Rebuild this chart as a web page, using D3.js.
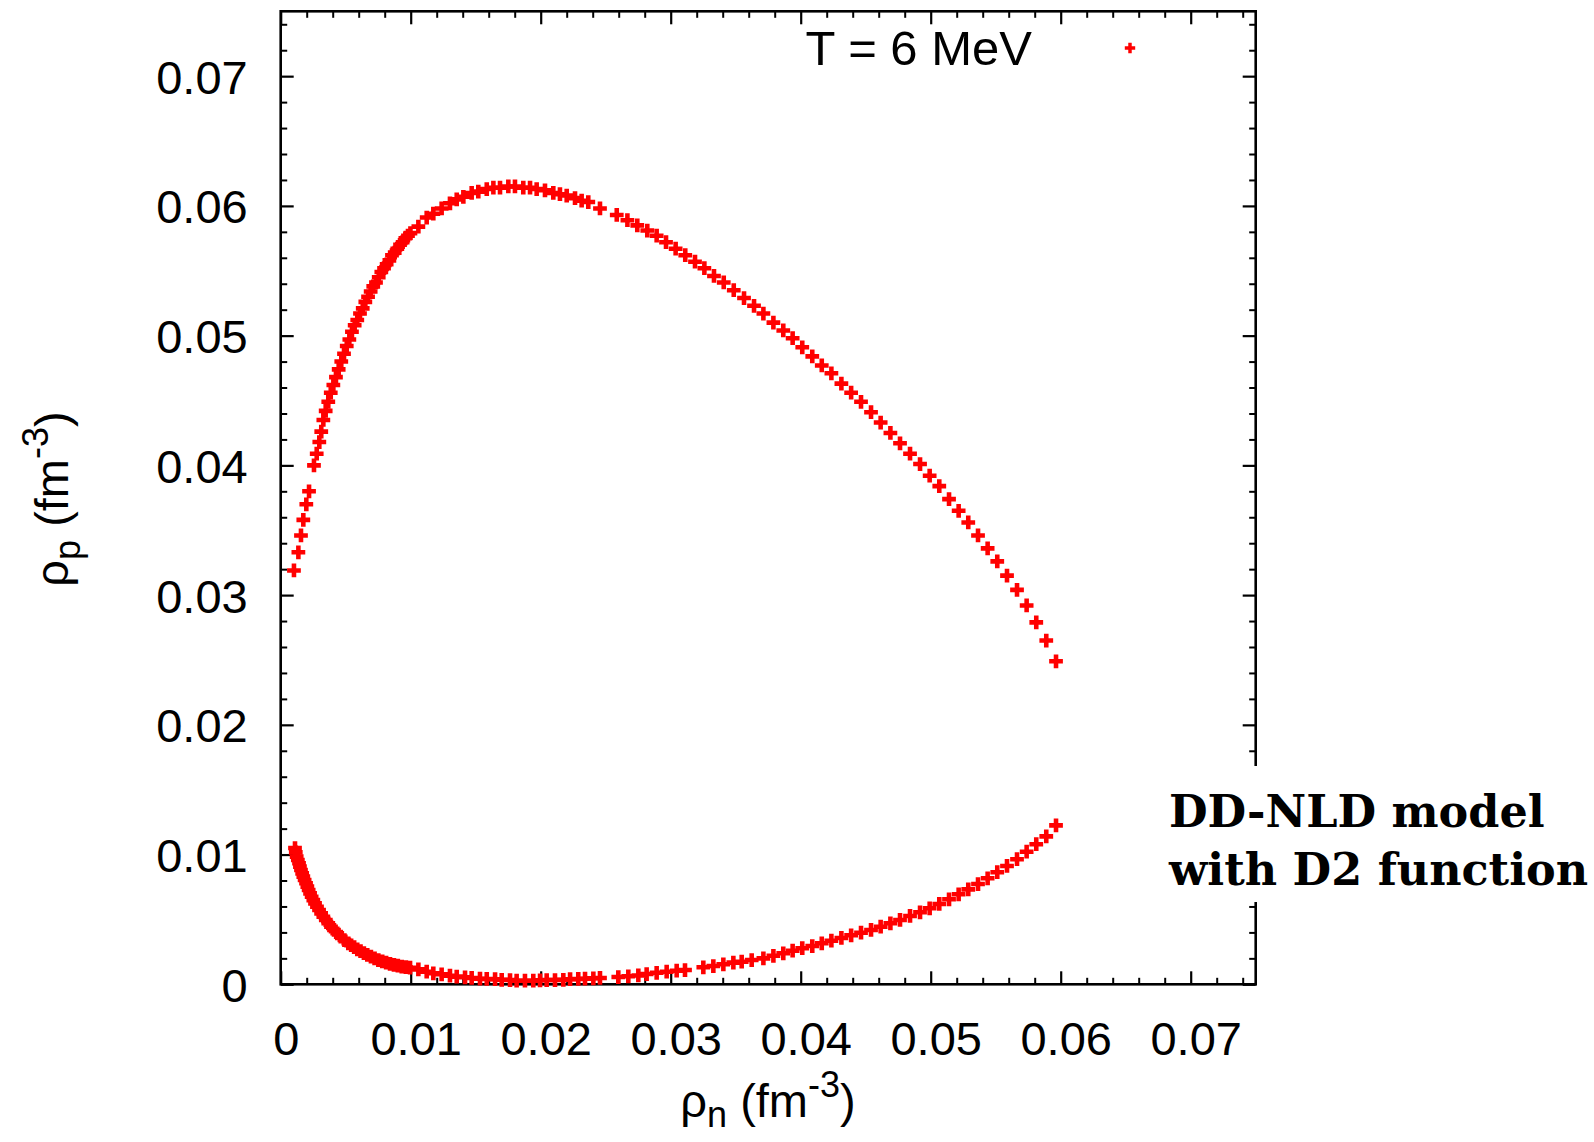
<!DOCTYPE html>
<html>
<head>
<meta charset="utf-8">
<script src="https://cdn.jsdelivr.net/npm/d3@7"></script>
<style>
  html, body { margin: 0; padding: 0; background: #fff; }
  svg text { font-family: "Liberation Sans", Arial, sans-serif; fill: #000; }
</style>
</head>
<body>
<div id="chart"></div>
<script>
// rho_n / rho_p pairs, upper branch (left to right)
let upperN = [
  0.00102, 0.00136, 0.00156, 0.00174, 0.00197, 0.00218, 0.00256, 0.00277, 0.00297, 0.00312,
  0.00328, 0.00346, 0.00366, 0.00385, 0.00405, 0.00425, 0.00446, 0.00466, 0.00487, 0.00508,
  0.00528, 0.00548, 0.00569, 0.00589, 0.00610, 0.00631, 0.00651, 0.00672, 0.00692, 0.00712,
  0.00733, 0.00754, 0.00774, 0.00795, 0.00815, 0.00836, 0.00856, 0.00877, 0.00897, 0.00918,
  0.00938, 0.00959, 0.00979, 0.00998,
  0.01059, 0.01123, 0.01174, 0.01238, 0.01302, 0.01354, 0.01405, 0.01469, 0.01520, 0.01585,
  0.01636, 0.01687, 0.01751, 0.01802, 0.01866, 0.01918, 0.01969, 0.02033, 0.02097, 0.02148,
  0.02200, 0.02264, 0.02315, 0.02366, 0.02456,
  0.02585, 0.02667, 0.02743, 0.02820, 0.02892, 0.02964, 0.03038, 0.03112, 0.03187, 0.03259,
  0.03333, 0.03408, 0.03485, 0.03564, 0.03641, 0.03713, 0.03790, 0.03866, 0.03938, 0.04012,
  0.04089, 0.04162, 0.04236, 0.04313, 0.04388, 0.04464, 0.04541, 0.04615, 0.04690, 0.04764,
  0.04841, 0.04918, 0.04992, 0.05066, 0.05141, 0.05215, 0.05289, 0.05364, 0.05438, 0.05512,
  0.05587, 0.05664, 0.05738, 0.05812, 0.05889, 0.05964
];
let upperP = [
  0.0319, 0.0333, 0.0346, 0.0358, 0.0370, 0.0380, 0.0400, 0.0409, 0.0418, 0.0426,
  0.0435, 0.0442, 0.0449, 0.0456, 0.0462, 0.0468, 0.0474, 0.0480, 0.0486, 0.0492,
  0.0497, 0.0503, 0.0508, 0.0512, 0.0517, 0.0521, 0.0526, 0.0530, 0.0534, 0.0538,
  0.0541, 0.0545, 0.0549, 0.0552, 0.0555, 0.0558, 0.0562, 0.0564, 0.0567, 0.0570,
  0.0572, 0.0575, 0.0577, 0.0579,
  0.0584, 0.0591, 0.0594, 0.0598, 0.0602, 0.0605, 0.0607, 0.0610, 0.0611, 0.0613,
  0.0614, 0.0614, 0.0615, 0.0615, 0.0614, 0.0614, 0.0613, 0.0612, 0.0610, 0.0609,
  0.0608, 0.0606, 0.0604, 0.0603, 0.0598,
  0.0593, 0.0589, 0.0585, 0.0581, 0.0577, 0.0572, 0.0567, 0.0562, 0.0557, 0.0552,
  0.0546, 0.0541, 0.0535, 0.0529, 0.0523, 0.0517, 0.0510, 0.0504, 0.0498, 0.0491,
  0.0484, 0.0477, 0.0471, 0.0463, 0.0456, 0.0449, 0.0441, 0.0433, 0.0425, 0.0417,
  0.0409, 0.0401, 0.0392, 0.0384, 0.0374, 0.0365, 0.0356, 0.0346, 0.0336, 0.0326,
  0.0315, 0.0304, 0.0292, 0.0279, 0.0265, 0.0249
];

// lower branch (left to right)
let lowerN = [
  0.00110, 0.00116, 0.00123, 0.00132, 0.00141, 0.00148, 0.00156, 0.00165, 0.00174, 0.00184,
  0.00195, 0.00205, 0.00215, 0.00226, 0.00238, 0.00251, 0.00264, 0.00279, 0.00295, 0.00311,
  0.00328, 0.00347, 0.00366, 0.00387, 0.00410, 0.00435, 0.00462, 0.00490, 0.00520, 0.00542,
  0.00565, 0.00589, 0.00614, 0.00640, 0.00666, 0.00694, 0.00722, 0.00751, 0.00781, 0.00811,
  0.00841, 0.00871, 0.00901, 0.00931, 0.00963, 0.00995,
  0.01059, 0.01123, 0.01174, 0.01238, 0.01302, 0.01354, 0.01418, 0.01469, 0.01533, 0.01585,
  0.01649, 0.01700, 0.01764, 0.01815, 0.01879, 0.01943, 0.01995, 0.02046, 0.02110, 0.02174,
  0.02226, 0.02289, 0.02341, 0.02405, 0.02456,
  0.02597, 0.02674, 0.02751, 0.02815, 0.02892, 0.02969, 0.03046, 0.03110,
  0.03251, 0.03328, 0.03405, 0.03482, 0.03546, 0.03623, 0.03713, 0.03790, 0.03866, 0.03938,
  0.04012, 0.04089, 0.04162, 0.04236, 0.04313, 0.04388, 0.04464, 0.04541, 0.04615, 0.04690,
  0.04764, 0.04841, 0.04918, 0.04992, 0.05066, 0.05141, 0.05215, 0.05289, 0.05364, 0.05438,
  0.05512, 0.05587, 0.05664, 0.05738, 0.05812, 0.05889, 0.05964
];
let lowerP = [
  0.01050, 0.01017, 0.00984, 0.00958, 0.00933, 0.00907, 0.00881, 0.00855, 0.00830, 0.00804,
  0.00779, 0.00753, 0.00727, 0.00701, 0.00675, 0.00649, 0.00624, 0.00598, 0.00573, 0.00547,
  0.00521, 0.00495, 0.00470, 0.00444, 0.00419, 0.00393, 0.00367, 0.00341, 0.00316, 0.00301,
  0.00286, 0.00270, 0.00255, 0.00240, 0.00226, 0.00213, 0.00200, 0.00187, 0.00177, 0.00167,
  0.00158, 0.00150, 0.00143, 0.00136, 0.00132, 0.00128,
  0.00115, 0.00097, 0.00085, 0.00077, 0.00066, 0.00059, 0.00054, 0.00049, 0.00043, 0.00041,
  0.00039, 0.00035, 0.00033, 0.00028, 0.00028, 0.00028, 0.00031, 0.00033, 0.00033, 0.00035,
  0.00039, 0.00041, 0.00043, 0.00046, 0.00049,
  0.00056, 0.00062, 0.00068, 0.00079, 0.00089, 0.00097, 0.00105, 0.00110,
  0.00131, 0.00141, 0.00154, 0.00167, 0.00174, 0.00187, 0.00200, 0.00220, 0.00239, 0.00259,
  0.00278, 0.00295, 0.00316, 0.00336, 0.00357, 0.00378, 0.00398, 0.00419, 0.00444, 0.00470,
  0.00496, 0.00527, 0.00555, 0.00586, 0.00619, 0.00655, 0.00694, 0.00732, 0.00773, 0.00817,
  0.00864, 0.00912, 0.00964, 0.01022, 0.01080, 0.01140, 0.01225
];

let xTicks = [0, 0.01, 0.02, 0.03, 0.04, 0.05, 0.06, 0.07];
let xTickLabels = ["0", "0.01", "0.02", "0.03", "0.04", "0.05", "0.06", "0.07"];
let yTicks = [0, 0.01, 0.02, 0.03, 0.04, 0.05, 0.06, 0.07];
let yTickLabels = ["0", "0.01", "0.02", "0.03", "0.04", "0.05", "0.06", "0.07"];
let minorStep = 0.002;

let legendLabel = "T = 6 MeV";
let noteLines = ["DD-NLD model", "with D2 function"];

let width = 1594;
let height = 1142;
let margin = ({top: 11.3, right: 338.3, bottom: 157.7, left: 280.7});
let fontSize = 47;

let svg = d3.select("#chart")
    .append("svg")
    .attr("width", width)
    .attr("height", height);

let xScale = d3.scaleLinear()
    .domain([0, 0.075])
    .range([margin.left, width - margin.right]);

let yScale = d3.scaleLinear()
    .domain([0, 0.075])
    .range([height - margin.bottom, margin.top]);

// minor tick positions between the labelled ones
let minors = d3.range(0, 0.0751, minorStep)
    .map(function(v) { return Math.round(v * 1000) / 1000; })
    .filter(function(v) { return Math.round(v * 1000) % 10 !== 0; });

function tickAxis(axis, scale, values, size) {
    return axis(scale).tickValues(values).tickSize(-size).tickFormat("");
}

let x0 = xScale.range()[0], x1 = xScale.range()[1];
let y0 = yScale.range()[0], y1 = yScale.range()[1];

let tickLayers = [
    [d3.axisBottom, xScale, "translate(0," + y0 + ")"],
    [d3.axisTop, xScale, "translate(0," + y1 + ")"],
    [d3.axisLeft, yScale, "translate(" + x0 + ",0)"],
    [d3.axisRight, yScale, "translate(" + x1 + ",0)"]
];

tickLayers.forEach(function(t) {
    let major = (t[1] === xScale) ? xTicks : yTicks;
    svg.append("g")
        .attr("transform", t[2])
        .call(tickAxis(t[0], t[1], major, 13))
        .call(function(g) { g.select(".domain").remove(); })
        .selectAll("line").attr("stroke", "#000").attr("stroke-width", 2.2);
    svg.append("g")
        .attr("transform", t[2])
        .call(tickAxis(t[0], t[1], minors, 6.5))
        .call(function(g) { g.select(".domain").remove(); })
        .selectAll("line").attr("stroke", "#000").attr("stroke-width", 2);
});

// tick labels
svg.append("g")
    .attr("transform", "translate(0," + y0 + ")")
    .call(d3.axisBottom(xScale).tickValues(xTicks).tickSize(0).tickPadding(37)
        .tickFormat(function(d, i) { return xTickLabels[i]; }))
    .call(function(g) { g.select(".domain").remove(); })
    .selectAll("text")
    .attr("dx", 5)
    .style("font-family", "'Liberation Sans', Arial, sans-serif")
    .style("font-size", fontSize + "px")
    .attr("fill", "#000");

svg.append("g")
    .attr("transform", "translate(" + x0 + ",0)")
    .call(d3.axisLeft(yScale).tickValues(yTicks).tickSize(0).tickPadding(33)
        .tickFormat(function(d, i) { return yTickLabels[i]; }))
    .call(function(g) { g.select(".domain").remove(); })
    .selectAll("text")
    .attr("dy", "0.36em")
    .style("font-family", "'Liberation Sans', Arial, sans-serif")
    .style("font-size", fontSize + "px")
    .attr("fill", "#000");

// frame
svg.append("rect")
    .attr("x", x0)
    .attr("y", y1)
    .attr("width", x1 - x0)
    .attr("height", y0 - y1)
    .attr("fill", "none")
    .attr("stroke", "#000")
    .attr("stroke-width", 2.6);

// data points
let points = [];
upperN.forEach(function(v, i) { points.push({n: v, p: upperP[i]}); });
lowerN.forEach(function(v, i) { points.push({n: v, p: lowerP[i]}); });

let cross = d3.symbol(d3.symbolCross, 105);

svg.append("g")
    .selectAll("path")
    .data(points)
    .join("path")
    .attr("d", cross)
    .attr("fill", "#ff0000")
    .attr("transform", function(d) {
        return "translate(" + xScale(d.n) + "," + yScale(d.p) + ")";
    });

// legend
svg.append("text")
    .attr("x", 1032)
    .attr("y", 65)
    .attr("text-anchor", "end")
    .style("font-size", "49px")
    .text(legendLabel);

svg.append("path")
    .attr("d", d3.symbol(d3.symbolCross, 60))
    .attr("fill", "#ff0000")
    .attr("transform", "translate(1130,48)");

// axis titles
let xt = svg.append("text")
    .attr("x", 768)
    .attr("y", 1117)
    .attr("text-anchor", "middle")
    .style("font-size", fontSize + "px");
xt.append("tspan").text("ρ");
xt.append("tspan").attr("dy", 10).style("font-size", "36px").text("n");
xt.append("tspan").attr("dy", -10).text(" (fm");
xt.append("tspan").attr("dy", -20).style("font-size", "36px").text("-3");
xt.append("tspan").attr("dy", 20).text(")");

let yt = svg.append("text")
    .attr("transform", "translate(68,499) rotate(-90)")
    .attr("text-anchor", "middle")
    .style("font-size", fontSize + "px");
yt.append("tspan").text("ρ");
yt.append("tspan").attr("dy", 12).style("font-size", "36px").text("p");
yt.append("tspan").attr("dy", -12).text(" (fm");
yt.append("tspan").attr("dy", -20).style("font-size", "36px").text("-3");
yt.append("tspan").attr("dy", 20).text(")");

// model note on a white box over the right frame
svg.append("rect")
    .attr("x", 1160)
    .attr("y", 766)
    .attr("width", width - 1160)
    .attr("height", 136)
    .attr("fill", "#fff");

svg.selectAll("text.note")
    .data(noteLines)
    .join("text")
    .attr("class", "note")
    .attr("x", 1169)
    .attr("y", function(d, i) { return 826.5 + i * 58.5; })
    .style("font-family", "'DejaVu Serif', serif")
    .style("font-weight", "bold")
    .style("font-size", "44.5px")
    .text(function(d) { return d; });
</script>
</body>
</html>
